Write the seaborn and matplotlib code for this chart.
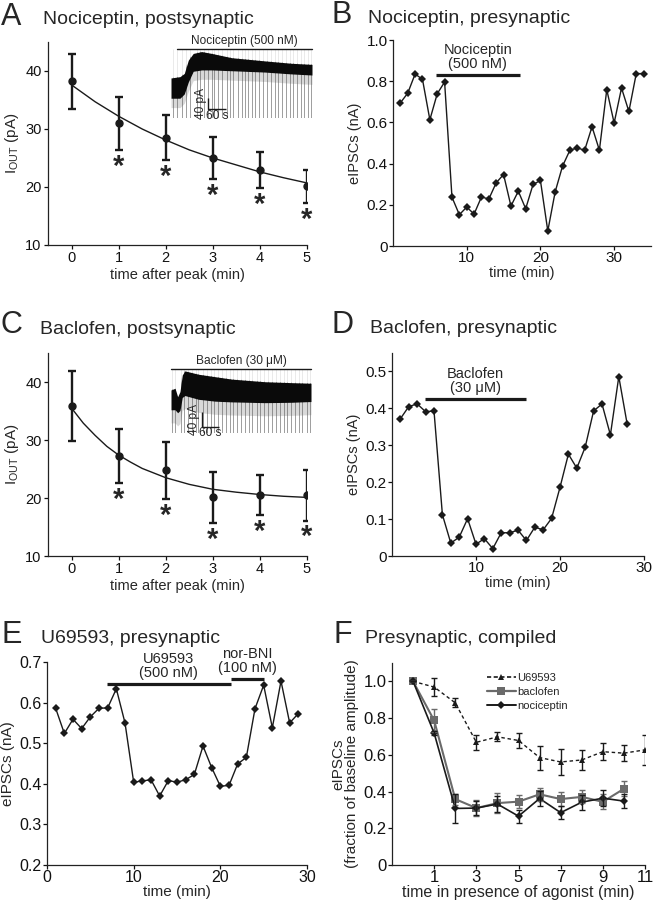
import numpy as np
import pandas as pd
import matplotlib
matplotlib.use("Agg")
import matplotlib.pyplot as plt
from matplotlib.lines import Line2D
import seaborn as sns

# ------------------------------------------------------------------ data
# A  Nociceptin, postsynaptic
A_time = [0, 1, 2, 3, 4, 5]
A_mean = [38.2, 31.0, 28.5, 25.0, 23.0, 20.1]
A_hi = [43.0, 35.6, 32.4, 28.7, 26.1, 23.0]
A_lo = [33.4, 26.3, 24.6, 21.4, 19.8, 17.2]
A_fit_t = [0, 0.5, 1, 1.5, 2, 2.5, 3, 3.5, 4, 4.5, 5]
A_fit = [37.6, 34.7, 32.2, 30.0, 28.1, 26.4, 25.0, 23.8, 22.6, 21.6, 20.7]
A_sig = [1, 2, 3, 4, 5]

# A inset trace (s, pA)
insA_t = [0, 31, 46, 60, 77, 106, 141, 210, 325, 418, 488]
insA_top = [0, 5, 17, 67, 92, 99, 92, 76, 64, 55, 51]
insA_bot = [-76, -76, -60, -15, 25, 30, 30, 27, 22, 15, 11]
insA_spikes = [8, 20, 37, 51, 66, 89, 100, 115, 127, 141, 150, 164, 178, 193,
               204, 216, 231, 245, 256, 268, 281, 291, 306, 319, 331, 346, 360,
               371, 385, 398, 412, 423, 435, 450, 461, 473, 483]
insA_floor, insA_ceil = -150, 108.6
insA_drug = [20, 488]
insA_label = "Nociceptin (500 nM)"

# B  Nociceptin, presynaptic
B_time = list(range(1, 35))
B_val = [0.695, 0.742, 0.835, 0.809, 0.613, 0.739, 0.796, 0.237, 0.152, 0.189,
         0.155, 0.238, 0.228, 0.307, 0.347, 0.194, 0.266, 0.181, 0.299, 0.318,
         0.073, 0.263, 0.388, 0.465, 0.476, 0.465, 0.579, 0.465, 0.759, 0.597,
         0.767, 0.653, 0.837, 0.837]
B_drug = [5.8, 17.2]

# C  Baclofen, postsynaptic
C_time = [0, 1, 2, 3, 4, 5]
C_mean = [35.8, 27.2, 24.8, 20.1, 20.5, 20.5]
C_hi = [41.9, 31.9, 29.7, 24.4, 24.0, 24.8]
C_lo = [29.8, 22.6, 19.8, 15.7, 17.0, 16.1]
C_fit_t = [0, 0.25, 0.5, 0.75, 1, 1.25, 1.5, 2, 2.5, 3, 3.5, 4, 4.5, 5]
C_fit = [35.5, 32.9, 30.8, 28.9, 27.4, 26.2, 25.1, 23.5, 22.35, 21.5, 21.0,
         20.6, 20.3, 20.1]
C_sig = [1, 2, 3, 4, 5]

insC_t = [0, 14, 23, 31, 39, 48, 95, 152, 210, 325, 418, 484]
insC_top = [0, 4.5, -18, -4.5, 40, 51, 42, 35.5, 29, 22, 19.5, 18]
insC_bot = [-53, -53, -61, -55, -20, -15, -25, -30, -32, -34, -33, -31]
insC_spikes = [5, 14, 35, 46, 58, 72, 85, 95, 112, 123, 138, 150, 161, 175,
               189, 204, 216, 227, 242, 256, 270, 281, 296, 308, 322, 337, 348,
               362, 377, 389, 402, 415, 429, 441, 454, 470, 479]
insC_floor, insC_ceil = -115, 56
insC_drug = [0, 484]
insC_label = "Baclofen (30 \u03bcM)"

# D  Baclofen, presynaptic
D_time = list(range(1, 29))
D_val = [0.372, 0.405, 0.412, 0.391, 0.393, 0.112, 0.035, 0.051, 0.101, 0.032,
         0.047, 0.020, 0.063, 0.063, 0.070, 0.042, 0.078, 0.071, 0.102, 0.186,
         0.276, 0.238, 0.295, 0.393, 0.412, 0.328, 0.486, 0.357]
D_drug = [3.9, 15.9]

# E  U69593, presynaptic
E_time = list(range(1, 30))
E_val = [0.586, 0.524, 0.559, 0.536, 0.565, 0.586, 0.587, 0.634, 0.550, 0.404,
         0.407, 0.410, 0.370, 0.408, 0.404, 0.410, 0.423, 0.493, 0.440, 0.394,
         0.396, 0.449, 0.465, 0.585, 0.643, 0.538, 0.653, 0.550, 0.573]
E_drug1 = [6.9, 21.2]
E_drug2 = [21.2, 25.0]

# F  Presynaptic, compiled
F_time_u = list(range(0, 12))
F_u69 = [1.0, 0.969, 0.883, 0.668, 0.698, 0.678, 0.585, 0.561, 0.572, 0.617, 0.609, 0.627]
F_u69_err = [0, 0.05, 0.025, 0.042, 0.024, 0.04, 0.065, 0.07, 0.055, 0.045, 0.045, 0.08]
F_time = list(range(0, 11))
F_bac = [1.0, 0.787, 0.359, 0.31, 0.337, 0.345, 0.385, 0.359, 0.371, 0.344, 0.415]
F_bac_err = [0, 0.065, 0.03, 0.045, 0.055, 0.035, 0.035, 0.04, 0.035, 0.04, 0.04]
F_noc = [1.0, 0.718, 0.308, 0.31, 0.332, 0.266, 0.362, 0.285, 0.342, 0.364, 0.348]
F_noc_err = [0, 0.01, 0.08, 0.04, 0.045, 0.035, 0.04, 0.035, 0.04, 0.045, 0.04]

# ------------------------------------------------------------------ style
sns.set_theme(style="ticks")
plt.rcParams["font.family"] = ["Liberation Sans", "DejaVu Sans"]
plt.rcParams["mathtext.fontset"] = "custom"
plt.rcParams["mathtext.rm"] = "Liberation Sans"
plt.rcParams["mathtext.it"] = "Liberation Sans:italic"
plt.rcParams["axes.edgecolor"] = "#222222"
plt.rcParams["axes.linewidth"] = 0.9

W, H = 654, 900
fig = plt.figure(figsize=(W / 100, H / 100), dpi=100)
fig.patch.set_facecolor("white")


def px_axes(l, t, r, b):
    return fig.add_axes([l / W, 1 - b / H, (r - l) / W, (b - t) / H])


def style(ax, fs, pad=1.5):
    sns.despine(ax=ax)
    ax.tick_params(direction="out", length=3, width=0.9, labelsize=fs, pad=pad,
                   colors="#111111")
    ax.set_facecolor("white")


def panel_title(x, y, letter):
    fig.text(x / W, 1 - y / H, letter, fontsize=22, va="baseline", ha="left")


def title_text(x, y, text):
    fig.text(x / W, 1 - y / H, text, fontsize=14, va="baseline", ha="left")


def post_panel(ax, t, mean, lo, hi, fit_t, fit, sig):
    mean = np.asarray(mean); lo = np.asarray(lo); hi = np.asarray(hi)
    ax.errorbar(t, mean, yerr=[mean - lo, hi - mean], fmt="o", color="k",
                ms=5, elinewidth=1.7, capsize=3.2, capthick=1.7, zorder=3)
    sns.lineplot(x=fit_t, y=fit, ax=ax, color="k", lw=1.0, zorder=2)
    for s in sig:
        i = list(t).index(s)
        ax.text(s, lo[i] - 0.45, "*", ha="center", va="top", fontsize=21,
                fontweight="bold")
    ax.set_xlim(-0.5, 5)
    ax.set_ylim(10, 45)
    ax.set_xticks([0, 1, 2, 3, 4, 5])
    ax.set_yticks([10, 20, 30, 40])
    style(ax, 10.5)
    ax.set_ylabel(r"I$_{\rm OUT}$ (pA)", fontsize=11, labelpad=3)
    ax.set_xlabel("time after peak (min)", fontsize=10.5, labelpad=2)


def inset(l, t, r, b, ts, top, bot, spikes, floor, ceil, drug, label,
          sb_x, sb_y, xmax):
    ai = px_axes(l, t, r, b)
    ai.set_xlim(0, xmax)
    ai.set_ylim(floor, ceil)
    ai.axis("off")
    ai.vlines(spikes, floor, ceil, colors="#e1e1e1", lw=0.5, zorder=1)
    under = ai.fill_between(ts, floor, top, color="none", lw=0, zorder=0)
    dark = ai.vlines(spikes, floor, ceil, colors="#929292", lw=0.6, zorder=2)
    dark.set_clip_path(under.get_paths()[0], transform=ai.transData)
    ai.fill_between(ts, np.asarray(bot) - 35, bot, color="#555555",
                    alpha=0.22, lw=0, zorder=2)
    ai.fill_between(ts, bot, top, color="#0a0a0a", lw=0, zorder=3)
    ai.plot(drug, [ceil, ceil], color="k", lw=1.0, clip_on=False, zorder=4)
    ai.text(np.mean(drug), ceil + (ceil - floor) * 0.035, label, ha="center",
            va="bottom", fontsize=8.6)
    x0, y0 = sb_x, sb_y
    ai.plot([x0, x0, x0 + 60], [y0 + 40, y0, y0], color="k", lw=1.0, zorder=5,
            solid_capstyle="butt")
    ai.text(x0 - 5, y0 + 20, "40 pA", rotation=90, ha="right", va="center",
            fontsize=8.6, zorder=6)
    ai.text(x0 + 30, y0 - (ceil - floor) * 0.01, "60 s", ha="center", va="top",
            fontsize=8.6, zorder=6)
    return ai


def pre_panel(ax, t, v, fs=11):
    sns.lineplot(x=t, y=v, ax=ax, color="k", lw=1.0, marker="D", markersize=3.6,
                 markeredgewidth=0, markerfacecolor="k")
    style(ax, fs, pad=0.8)


def drug_bar(ax, span, y, text, ty):
    ax.plot(span, [y, y], color="k", lw=2.3, solid_capstyle="butt")
    ax.text(np.mean(span), ty, text, ha="center", va="bottom", fontsize=10.5,
            linespacing=1.0)


# ------------------------------------------------------------------ A
axA = px_axes(48, 42, 307, 245)
post_panel(axA, A_time, A_mean, A_lo, A_hi, A_fit_t, A_fit, A_sig)
panel_title(1, 25, "A")
title_text(43, 24, "Nociceptin, postsynaptic")
inset(171, 49, 312, 118, insA_t, insA_top, insA_bot, insA_spikes, insA_floor,
      insA_ceil, insA_drug, insA_label, 129, -116, 488)

# ------------------------------------------------------------------ B
axB = px_axes(393, 40, 651, 246)
pre_panel(axB, B_time, B_val)
axB.set_xlim(0, 35)
axB.set_ylim(0, 1.0)
axB.set_xticks([10, 20, 30])
axB.set_yticks([0, 0.2, 0.4, 0.6, 0.8, 1.0])
axB.set_yticklabels(["0", "0.2", "0.4", "0.6", "0.8", "1.0"])
axB.set_xlabel("time (min)", fontsize=10.5, labelpad=0.5)
axB.set_ylabel("eIPSCs (nA)", fontsize=10.5, labelpad=3)
drug_bar(axB, B_drug, 0.832, "Nociceptin\n(500 nM)", 0.85)
panel_title(332, 23, "B")
title_text(368, 23, "Nociceptin, presynaptic")

# ------------------------------------------------------------------ C
axC = px_axes(48, 353, 307, 556)
post_panel(axC, C_time, C_mean, C_lo, C_hi, C_fit_t, C_fit, C_sig)
panel_title(1, 333, "C")
title_text(40, 334, "Baclofen, postsynaptic")
inset(171, 369, 311, 433, insC_t, insC_top, insC_bot, insC_spikes, insC_floor,
      insC_ceil, insC_drug, insC_label, 106, -98, 484)

# ------------------------------------------------------------------ D
axD = px_axes(392, 353, 644, 556)
pre_panel(axD, D_time, D_val)
axD.set_xlim(0, 30)
axD.set_ylim(0, 0.55)
axD.set_xticks([10, 20, 30])
axD.set_yticks([0, 0.1, 0.2, 0.3, 0.4, 0.5])
axD.set_yticklabels(["0", "0.1", "0.2", "0.3", "0.4", "0.5"])
axD.set_xlabel("time (min)", fontsize=10.5, labelpad=0.5)
axD.set_ylabel("eIPSCs (nA)", fontsize=10.5, labelpad=3)
drug_bar(axD, D_drug, 0.426, "Baclofen\n(30 \u03bcM)", 0.437)
panel_title(332, 333, "D")
title_text(370, 333, "Baclofen, presynaptic")

# ------------------------------------------------------------------ E
axE = px_axes(47, 662, 307, 865)
pre_panel(axE, E_time, E_val, fs=11.5)
axE.set_xlim(0, 30)
axE.set_ylim(0.2, 0.7)
axE.set_xticks([0, 10, 20, 30])
axE.set_yticks([0.2, 0.3, 0.4, 0.5, 0.6, 0.7])
axE.set_xlabel("time (min)", fontsize=11, labelpad=0)
axE.set_ylabel("eIPSCs (nA)", fontsize=11, labelpad=3)
drug_bar(axE, E_drug1, 0.646, "U69593\n(500 nM)", 0.655)
drug_bar(axE, E_drug2, 0.658, "nor-BNI\n(100 nM)", 0.668)
panel_title(1, 643, "E")
title_text(41, 643, "U69593, presynaptic")

# ------------------------------------------------------------------ F
axF = px_axes(392, 663, 645, 865)
gray = "#6a6a6a"
sns.lineplot(x=F_time_u, y=F_u69, ax=axF, color="k", lw=1.0, ls=(0, (2.5, 2)),
             marker="^", markersize=5, markeredgewidth=0)
sns.lineplot(x=F_time, y=F_bac, ax=axF, color=gray, lw=1.5, marker="s",
             markersize=5.5, markeredgewidth=0)
sns.lineplot(x=F_time, y=F_noc, ax=axF, color="k", lw=1.2, marker="D",
             markersize=4.5, markeredgewidth=0)
axF.errorbar(F_time_u, F_u69, yerr=F_u69_err, fmt="none", ecolor="k",
             elinewidth=1.0, capsize=2.5, capthick=1.0)
axF.errorbar(F_time, F_bac, yerr=F_bac_err, fmt="none", ecolor=gray,
             elinewidth=1.0, capsize=2.5, capthick=1.0)
axF.errorbar(F_time, F_noc, yerr=F_noc_err, fmt="none", ecolor="k",
             elinewidth=1.0, capsize=2.5, capthick=1.0)
axF.set_xlim(-1, 11)
axF.set_ylim(0, 1.1)
axF.set_xticks([1, 3, 5, 7, 9, 11])
axF.set_yticks([0, 0.2, 0.4, 0.6, 0.8, 1.0])
axF.set_yticklabels(["0", "0.2", "0.4", "0.6", "0.8", "1.0"])
style(axF, 12, pad=0.8)
axF.set_xlabel("time in presence of agonist (min)", fontsize=11.5, labelpad=0)
axF.set_ylabel("eIPSCs\n(fraction of baseline amplitude)", fontsize=11,
               labelpad=3, linespacing=1.0)
handles = [
    Line2D([], [], color="k", lw=1.2, ls=(0, (2.5, 1.5)), marker="^", ms=5,
           mew=0),
    Line2D([], [], color=gray, lw=1.6, marker="s", ms=5.5, mew=0),
    Line2D([], [], color="k", lw=1.4, marker="D", ms=4.5, mew=0),
]
axF.legend(handles, ["U69593", "baclofen", "nociceptin"], loc="upper left",
           bbox_to_anchor=(487 / W, 1 - 673 / H),
           bbox_transform=fig.transFigure, frameon=False, fontsize=8,
           handlelength=2.6, handletextpad=0.1, labelspacing=0.35,
           borderpad=0, borderaxespad=0)
panel_title(334, 643, "F")
title_text(365, 643, "Presynaptic, compiled")

fig.savefig("out.png", dpi=100, facecolor="white")
